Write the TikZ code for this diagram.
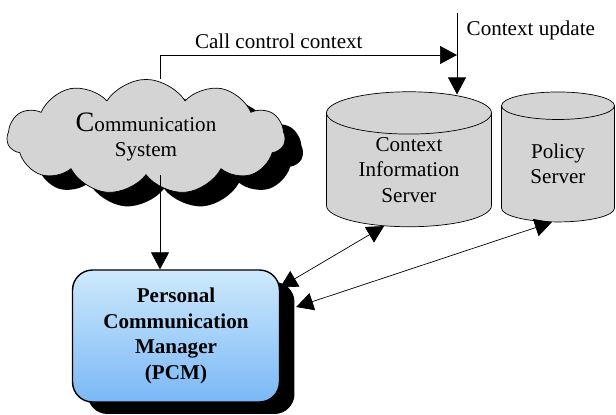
\documentclass[tikz,border=0pt]{standalone}
\usepackage{fontspec}
\setmainfont{Liberation Serif}
\usetikzlibrary{shapes, shapes.geometric, shapes.symbols, arrows.meta, calc, shadows}
\definecolor{pcmtop}{RGB}{206,233,252}
\definecolor{pcmbottom}{RGB}{122,184,246}
\definecolor{servergray}{RGB}{212,212,212}
\tikzstyle{cloudnode} = [cloud, cloud puffs=11, cloud puff arc=115, cloud ignores aspect, draw=black, fill=servergray, align=center, minimum width=5.56cm, minimum height=2.26cm, drop shadow={shadow xshift=0.36cm, shadow yshift=-0.28cm, fill=black, opacity=1}]
\tikzstyle{server} = [cylinder, shape border rotate=90, draw=black, fill=servergray, align=center, inner sep=0pt]
\tikzstyle{manager} = [rectangle, rounded corners=0.4cm, draw=black, thick, top color=pcmtop, bottom color=pcmbottom, align=center, font=\fontsize{12}{14.5}\selectfont\bfseries, minimum width=4.14cm, minimum height=2.64cm, drop shadow={shadow xshift=0.3cm, shadow yshift=-0.24cm, fill=black, opacity=1}]
\tikzstyle{arrow} = [-{Triangle[length=0.34cm, width=0.36cm]}]
\tikzstyle{dblarrow} = [{Triangle[length=0.34cm, width=0.36cm]}-{Triangle[length=0.34cm, width=0.36cm]}]

\begin{document}
\begin{tikzpicture}[x=0.02cm, y=-0.02cm, font=\fontsize{12}{14.5}\selectfont]
    \useasboundingbox (0,0) rectangle (616,414);
    \node (Comm) [cloudnode] at (146,137) {{\fontsize{16}{16}\selectfont C}ommunication\\System};
    \node (CIS) [server, minimum width=3.3cm, minimum height=2.7cm, aspect=0.42] at (409,170) {Context\\Information\\Server};
    \node (Policy) [server, minimum width=2.26cm, minimum height=2.6cm, aspect=0.5] at (558,164) {Policy\\Server};
    \node (PCM) [manager] at (176,336) {Personal\\Communication\\Manager\\(PCM)};
    \coordinate (Spine) at (160,0);
    \coordinate (Update) at (457,13);
    \coordinate (Join) at (457,55);
    % context flows into the information server
    \draw [arrow] (Spine |- Comm.north) |- node [pos=0.7, above] {Call control context} (Join);
    \draw [arrow] (Update) -- ($(Update |- CIS.north)+(0,3)$) node [pos=0.22, right, xshift=2] {Context update};
    \draw [arrow] (Spine |- Comm.south) -- (Spine |- PCM.north);
    % requests from the manager to the servers
    \draw [dblarrow] (PCM.25) -- (CIS.246);
    \draw [dblarrow] ($(PCM.east)+(16,-29)$) -- (Policy.264);
\end{tikzpicture}
\end{document}
